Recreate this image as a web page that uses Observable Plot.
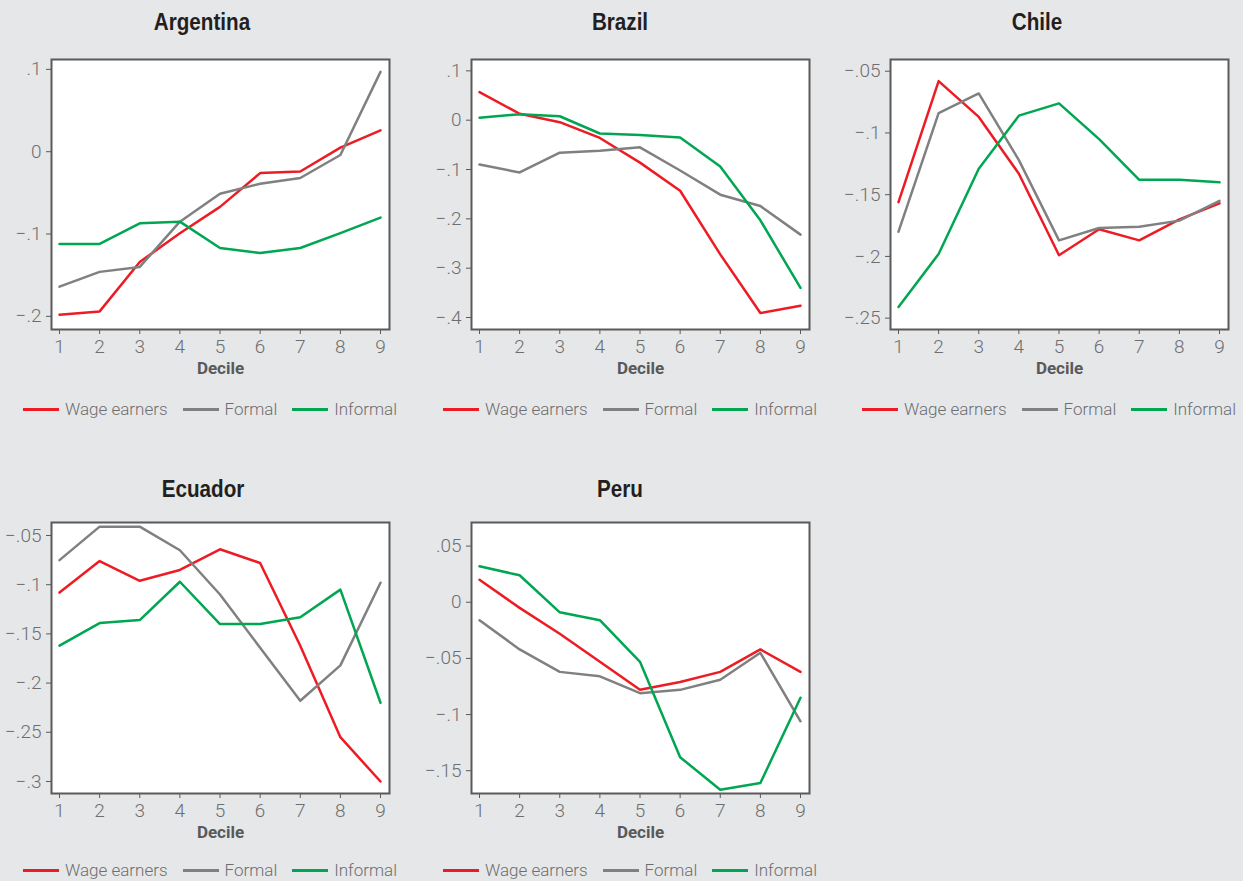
<!DOCTYPE html>
<html>
<head>
<meta charset="utf-8">
<script src="https://cdn.jsdelivr.net/npm/d3@7"></script>
<script src="https://cdn.jsdelivr.net/npm/@observablehq/plot@0.6"></script>
<style>
  html, body { margin: 0; padding: 0; background: #e6e7e8; }
  #root { position: relative; width: 1243px; height: 881px; background: #e6e7e8; overflow: hidden;
          font-family: Roboto, "Liberation Sans", sans-serif; }
  .title { position: absolute; text-align: center; line-height: 30px;
           font-family: "Liberation Sans", Arial, sans-serif;
           font-weight: bold; font-size: 24px; color: #231f20;
           transform: scaleX(0.86); transform-origin: center; }
  .legend { position: absolute; display: flex; align-items: center; height: 20px;
            font-size: 17px; color: #6d6e71; font-weight: 300; white-space: nowrap; }
  .item { display: flex; align-items: center; margin-right: 15px; }
  .sw { width: 36px; height: 3px; margin-right: 6px; }
  .panel svg { position: absolute; overflow: visible; }
</style>
</head>
<body>
<div id="root"></div>
<script>
// ---------------- data ----------------
const deciles = [1, 2, 3, 4, 5, 6, 7, 8, 9];
const seriesNames = ["Wage earners", "Formal", "Informal"];
const seriesColors = ["#ed1c24", "#808080", "#00a651"];
const countries = ["Argentina", "Brazil", "Chile", "Ecuador", "Peru"];

const argentinaWage     = [-0.198, -0.194, -0.134, -0.099, -0.067, -0.026, -0.024, 0.005, 0.026];
const argentinaFormal   = [-0.164, -0.146, -0.140, -0.085, -0.051, -0.039, -0.032, -0.004, 0.097];
const argentinaInformal = [-0.112, -0.112, -0.087, -0.085, -0.117, -0.123, -0.117, -0.099, -0.080];

const brazilWage     = [0.057, 0.013, -0.004, -0.036, -0.086, -0.143, -0.272, -0.391, -0.376];
const brazilFormal   = [-0.090, -0.106, -0.066, -0.062, -0.055, -0.102, -0.151, -0.174, -0.232];
const brazilInformal = [0.005, 0.012, 0.008, -0.027, -0.030, -0.035, -0.094, -0.203, -0.340];

const chileWage     = [-0.156, -0.058, -0.087, -0.133, -0.199, -0.178, -0.187, -0.170, -0.157];
const chileFormal   = [-0.180, -0.084, -0.068, -0.122, -0.187, -0.177, -0.176, -0.171, -0.155];
const chileInformal = [-0.241, -0.198, -0.129, -0.086, -0.076, -0.105, -0.138, -0.138, -0.140];

const ecuadorWage     = [-0.108, -0.076, -0.096, -0.085, -0.064, -0.078, -0.162, -0.255, -0.300];
const ecuadorFormal   = [-0.075, -0.041, -0.041, -0.065, -0.110, -0.164, -0.218, -0.182, -0.098];
const ecuadorInformal = [-0.162, -0.139, -0.136, -0.097, -0.140, -0.140, -0.133, -0.105, -0.220];

const peruWage     = [0.020, -0.005, -0.028, -0.053, -0.078, -0.071, -0.062, -0.042, -0.062];
const peruFormal   = [-0.016, -0.042, -0.062, -0.066, -0.081, -0.078, -0.069, -0.045, -0.106];
const peruInformal = [0.032, 0.024, -0.009, -0.016, -0.053, -0.138, -0.167, -0.161, -0.085];

const argentinaTicks = [-0.2, -0.1, 0, 0.1];
const brazilTicks    = [-0.4, -0.3, -0.2, -0.1, 0, 0.1];
const chileTicks     = [-0.25, -0.2, -0.15, -0.1, -0.05];
const ecuadorTicks   = [-0.3, -0.25, -0.2, -0.15, -0.1, -0.05];
const peruTicks      = [-0.15, -0.1, -0.05, 0, 0.05];

const xLabel = "Decile";

// ---------------- panel configuration ----------------
const panels = [
  { name: countries[0], series: [argentinaWage, argentinaFormal, argentinaInformal], ticks: argentinaTicks, domain: [-0.216, 0.112] },
  { name: countries[1], series: [brazilWage, brazilFormal, brazilInformal], ticks: brazilTicks, domain: [-0.4243, 0.123] },
  { name: countries[2], series: [chileWage, chileFormal, chileInformal], ticks: chileTicks, domain: [-0.2592, -0.0405] },
  { name: countries[3], series: [ecuadorWage, ecuadorFormal, ecuadorInformal], ticks: ecuadorTicks, domain: [-0.3122, -0.0368] },
  { name: countries[4], series: [peruWage, peruFormal, peruInformal], ticks: peruTicks, domain: [-0.1703, 0.071] }
];
const layout = [
  { left: 0,   top: 50,  ml: 51, w: 400, frameH: 270, titleTop: 7,   titleW: 404, legendLeft: 23,  legendTop: 399 },
  { left: 420, top: 50,  ml: 51, w: 400, frameH: 270, titleTop: 7,   titleW: 400, legendLeft: 23,  legendTop: 399 },
  { left: 830, top: 50,  ml: 60, w: 410, frameH: 270, titleTop: 7,   titleW: 414, legendLeft: 32,  legendTop: 399 },
  { left: 0,   top: 513, ml: 51, w: 400, frameH: 271, titleTop: 474, titleW: 406, legendLeft: 23,  legendTop: 860 },
  { left: 420, top: 513, ml: 51, w: 400, frameH: 271, titleTop: 474, titleW: 400, legendLeft: 23,  legendTop: 860 }
];
const frameW = 338, marginTop = 9, marginBottom = 31;

const fmt = d => {
  const r = Math.round(Math.abs(d) * 1000) / 1000;
  if (r === 0) return "0";
  return (d < 0 ? "\u2212" : "") + String(r).replace(/^0/, "");
};

const root = document.getElementById("root");

panels.forEach((p, i) => {
  const L = layout[i];
  const rows = [];
  p.series.forEach((vals, s) => {
    vals.forEach((v, k) => rows.push({ decile: deciles[k], value: v, series: seriesNames[s] }));
  });

  const panel = document.createElement("div");
  panel.className = "panel";
  root.appendChild(panel);

  const title = document.createElement("div");
  title.className = "title";
  title.style.left = L.left + "px";
  title.style.top = L.titleTop + "px";
  title.style.width = L.titleW + "px";
  title.textContent = p.name;
  panel.appendChild(title);

  const height = marginTop + L.frameH + marginBottom;
  const chart = Plot.plot({
    width: L.w,
    height,
    marginLeft: L.ml,
    marginRight: L.w - L.ml - frameW,
    marginTop,
    marginBottom,
    style: { background: "transparent", fontFamily: "Roboto, 'Liberation Sans', sans-serif", fontSize: "19px", overflow: "visible" },
    x: { domain: [1, 9], insetLeft: 8, insetRight: 9 },
    y: { domain: p.domain },
    color: { domain: seriesNames, range: seriesColors },
    marks: [
      Plot.frame({ fill: "white", stroke: null }),
      Plot.line(rows, { x: "decile", y: "value", z: "series", stroke: "series", strokeWidth: 2.5 }),
      Plot.frame({ stroke: "#5a5a5a", strokeWidth: 2 }),
      Plot.axisX({ ticks: deciles, tickSize: 5, tickPadding: 5, stroke: "#5a5a5a", fill: "#6d6e71",
                   fontSize: 19, fontWeight: 300, label: null, tickFormat: d => String(d) }),
      Plot.axisY({ ticks: p.ticks, tickSize: 5, tickPadding: 5, stroke: "#5a5a5a", fill: "#6d6e71",
                   fontSize: 19, fontWeight: 300, label: null, tickFormat: fmt }),
      Plot.text([xLabel], { text: d => d, frameAnchor: "bottom", dy: 44, fontWeight: "bold",
                            fontSize: 17, fill: "#58595b" })
    ]
  });
  chart.style.position = "absolute";
  chart.style.left = L.left + "px";
  chart.style.top = L.top + "px";
  panel.appendChild(chart);

  const legend = document.createElement("div");
  legend.className = "legend";
  legend.style.left = (L.left + L.legendLeft) + "px";
  legend.style.top = L.legendTop + "px";
  seriesNames.forEach((n, s) => {
    const item = document.createElement("div");
    item.className = "item";
    const sw = document.createElement("div");
    sw.className = "sw";
    sw.style.background = seriesColors[s];
    const t = document.createElement("span");
    t.textContent = n;
    item.appendChild(sw);
    item.appendChild(t);
    legend.appendChild(item);
  });
  panel.appendChild(legend);
});
</script>
</body>
</html>
